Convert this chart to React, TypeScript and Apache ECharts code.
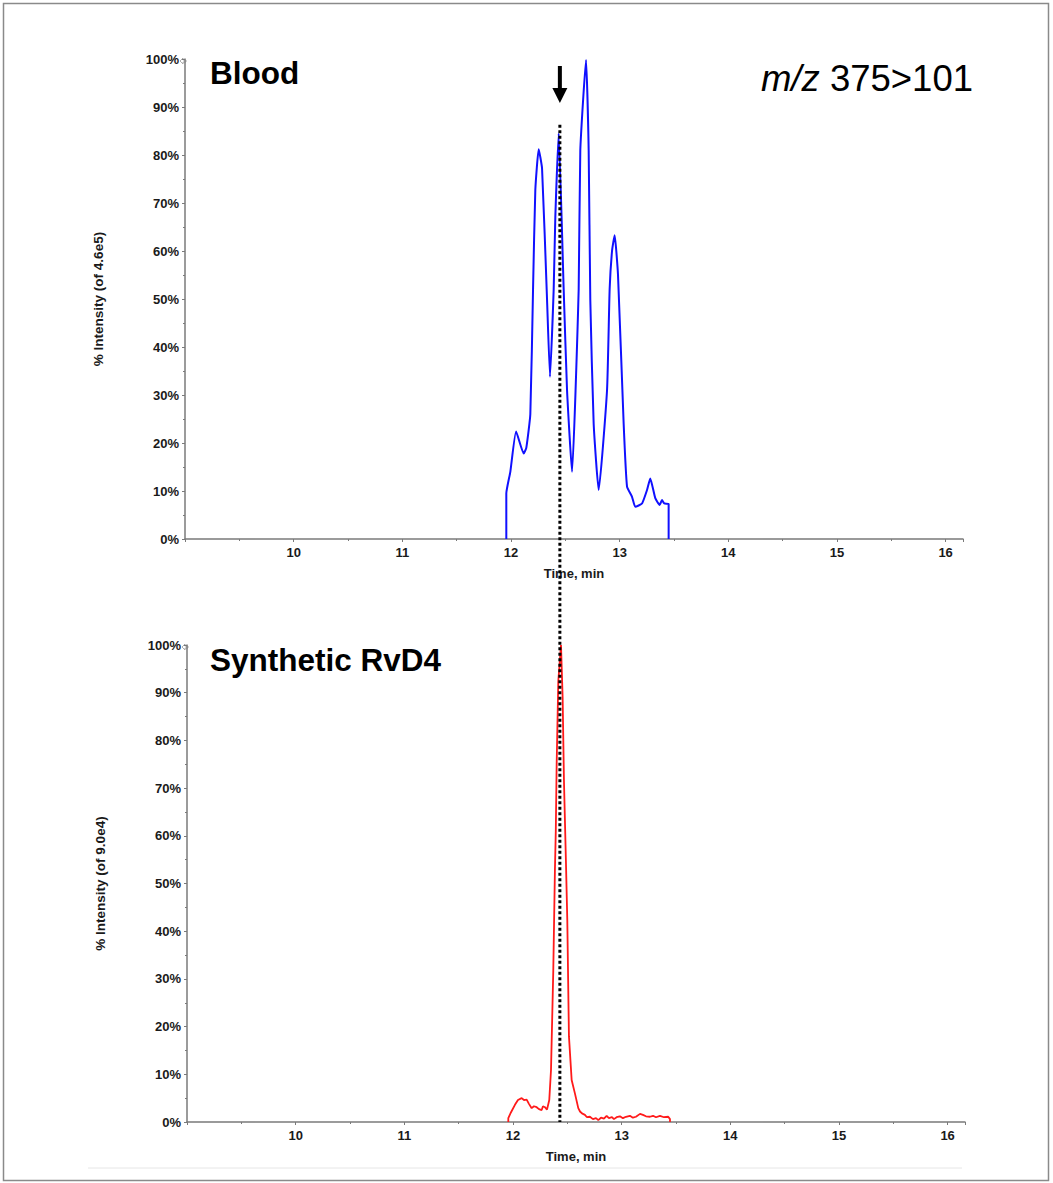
import React, { useEffect, useRef } from "react";
import * as echarts from "echarts";

// ---- data (time in min, % intensity) ----
const bloodTime = [11.957, 11.957, 11.994, 12.047, 12.117, 12.141, 12.178, 12.203, 12.224, 12.255, 12.286, 12.332, 12.359, 12.393, 12.408, 12.439, 12.485, 12.516, 12.562, 12.623, 12.638, 12.691, 12.715, 12.730, 12.761, 12.807, 12.884, 12.908, 12.930, 12.954, 12.985, 13.037, 13.068, 13.114, 13.144, 13.206, 13.252, 13.282, 13.328, 13.368, 13.390, 13.411, 13.451, 13.451];
const bloodValue = [0, 9.5, 14, 22.4, 17.8, 19, 26, 52, 72.7, 81.2, 77.2, 49.8, 33.8, 52, 67, 84.5, 52, 31, 14, 52, 81, 99.8, 81, 49.8, 24, 10.2, 31, 52, 60, 63.3, 55, 24, 10.9, 8.8, 6.7, 7.4, 10.2, 12.6, 8.5, 7.1, 8.1, 7.4, 7.3, 0];

const rvd4Time = [11.957, 11.957, 11.981, 12.018, 12.046, 12.080, 12.101, 12.126, 12.147, 12.172, 12.193, 12.218, 12.239, 12.264, 12.276, 12.294, 12.313, 12.334, 12.350, 12.371, 12.386, 12.394, 12.402, 12.417, 12.442, 12.457, 12.469, 12.488, 12.500, 12.515, 12.540, 12.570, 12.601, 12.617, 12.635, 12.662, 12.681, 12.708, 12.736, 12.764, 12.785, 12.810, 12.837, 12.862, 12.883, 12.911, 12.929, 12.954, 12.984, 13.012, 13.040, 13.076, 13.104, 13.132, 13.169, 13.196, 13.224, 13.261, 13.289, 13.316, 13.353, 13.390, 13.429, 13.445, 13.445];
const rvd4Value = [0, 0.8, 2.0, 3.6, 4.6, 5.0, 4.6, 4.7, 3.8, 2.9, 3.3, 3.1, 2.7, 2.5, 3.3, 3.1, 2.6, 4.6, 10.9, 31.8, 52.8, 61, 75, 92.4, 100, 89, 71.7, 54, 42.2, 18, 8.8, 6, 2.9, 2.2, 1.8, 1.5, 1.0, 1.1, 0.6, 0.8, 0.4, 0.9, 0.7, 1.3, 0.8, 1.0, 0.6, 1.0, 1.2, 0.8, 1.1, 1.3, 0.9, 1.1, 1.7, 1.5, 1.2, 1.1, 1.3, 1.0, 1.3, 1.0, 1.1, 0.6, 0];

const xTicks = [10, 11, 12, 13, 14, 15, 16];
const yTicks = [0, 10, 20, 30, 40, 50, 60, 70, 80, 90, 100];
const X_MIN = 9;
const X_MAX = 16.16;
const RT_MARK = 12.45;
const MARK_TOP_PCT = 86.3;

const titles = ["Blood", "Synthetic RvD4"];
const yNames = ["% Intensity (of 4.6e5)", "% Intensity (of 9.0e4)"];
const transitionLabel = { italic: "m/z", rest: " 375>101" };

const FONT = "'Liberation Sans', Arial, Helvetica, sans-serif";
const AXIS_GRAY = "#7a7a7a";

function makeX(gridIndex: number) {
  return {
    type: "value",
    gridIndex,
    min: X_MIN,
    max: X_MAX,
    interval: 1,
    name: "Time, min",
    nameLocation: "middle",
    nameGap: 28,
    nameTextStyle: { fontFamily: FONT, fontWeight: "bold", fontSize: 13, color: "#1a1a1a" },
    axisLine: { show: true, lineStyle: { color: AXIS_GRAY, width: 1.5 } },
    axisTick: { show: true, length: 3, lineStyle: { color: AXIS_GRAY } },
    minorTick: { show: true, splitNumber: 2, length: 2, lineStyle: { color: AXIS_GRAY } },
    splitLine: { show: false },
    axisLabel: {
      fontFamily: FONT,
      fontWeight: "bold",
      fontSize: 13,
      color: "#1a1a1a",
      margin: 7,
      showMinLabel: false,
      showMaxLabel: false,
      formatter: (v: number) => (xTicks.includes(Math.round(v)) && Math.abs(v - Math.round(v)) < 1e-6 ? String(Math.round(v)) : ""),
    },
  };
}

function makeY(gridIndex: number) {
  return {
    type: "value",
    gridIndex,
    min: yTicks[0],
    max: yTicks[yTicks.length - 1],
    interval: 10,
    name: yNames[gridIndex],
    nameLocation: "middle",
    nameGap: 80,
    nameTextStyle: { fontFamily: FONT, fontWeight: "bold", fontSize: 13.5, color: "#1a1a1a" },
    axisLine: { show: true, lineStyle: { color: AXIS_GRAY, width: 1.5 } },
    axisTick: { show: true, length: 3, lineStyle: { color: AXIS_GRAY } },
    minorTick: { show: true, splitNumber: 2, length: 2, lineStyle: { color: AXIS_GRAY } },
    splitLine: { show: false },
    axisLabel: {
      fontFamily: FONT,
      fontWeight: "bold",
      fontSize: 13,
      color: "#1a1a1a",
      margin: 6,
      formatter: "{value}%",
    },
  };
}

function zip(t: number[], v: number[]) {
  return t.map((x, i) => [x, v[i]]);
}

export default function App() {
  const ref = useRef<HTMLDivElement>(null);
  useEffect(() => {
    document.body.style.margin = "0";
    if (!ref.current) return;
    const chart = echarts.init(ref.current, null, { renderer: "svg" });
    const option: any = {
      animation: false,
      backgroundColor: "#ffffff",
      grid: [
        { left: 185, top: 59, width: 778, height: 480 },
        { left: 187, top: 645, width: 778, height: 477 },
      ],
      xAxis: [makeX(0), makeX(1)],
      yAxis: [makeY(0), makeY(1)],
      series: [
        {
          type: "line",
          xAxisIndex: 0,
          yAxisIndex: 0,
          data: zip(bloodTime, bloodValue),
          showSymbol: false,
          smooth: 0.15,
          lineStyle: { color: "#1010ff", width: 2 },
        },
        {
          type: "line",
          xAxisIndex: 1,
          yAxisIndex: 1,
          data: zip(rvd4Time, rvd4Value),
          showSymbol: false,
          lineStyle: { color: "#ff1a1a", width: 1.8 },
        },
      ],
    };
    chart.setOption(option);

    const top = chart.convertToPixel({ gridIndex: 0 }, [RT_MARK, MARK_TOP_PCT]) as number[];
    const bot = chart.convertToPixel({ gridIndex: 1 }, [RT_MARK, 0]) as number[];
    const c0 = chart.convertToPixel({ gridIndex: 0 }, [X_MIN, 100]) as number[];
    const c1 = chart.convertToPixel({ gridIndex: 1 }, [X_MIN, 100]) as number[];
    const mx = top[0];

    const smallIcon = (p: number[]) => ({
      type: "polygon",
      shape: {
        points: [
          [p[0] - 5, p[1] + 2],
          [p[0] - 2, p[1] - 1],
          [p[0] - 2, p[1] + 1],
          [p[0] + 1, p[1] + 1],
          [p[0] + 1, p[1] + 3],
          [p[0] - 2, p[1] + 3],
          [p[0] - 2, p[1] + 5],
        ],
      },
      style: { fill: "none", stroke: "#999", lineWidth: 0.8 },
    });

    chart.setOption({
      graphic: [
        {
          type: "rect",
          shape: { x: 3.5, y: 3.5, width: 1045, height: 1177 },
          style: { fill: "none", stroke: "#8a8a8a", lineWidth: 1.5 },
          silent: true,
        },
        {
          type: "line",
          shape: { x1: 88, y1: 1168, x2: 962, y2: 1168 },
          style: { stroke: "#e6e6e6", lineWidth: 1 },
        },
        {
          type: "line",
          shape: { x1: mx, y1: top[1], x2: mx, y2: bot[1] },
          style: { stroke: "#000", lineWidth: 3, lineDash: [3, 2.5] },
          z: 10,
        },
        {
          type: "rect",
          shape: { x: mx - 2, y: 66, width: 4, height: 24 },
          style: { fill: "#000" },
        },
        {
          type: "polygon",
          shape: { points: [[mx - 7.5, 88], [mx + 7.5, 88], [mx, 103]] },
          style: { fill: "#000" },
        },
        smallIcon(c0),
        smallIcon(c1),
        {
          type: "text",
          x: 210,
          y: 73,
          style: { text: titles[0], font: `bold 31.5px ${FONT}`, fill: "#000", verticalAlign: "middle" },
        },
        {
          type: "text",
          x: 210,
          y: 660,
          style: { text: titles[1], font: `bold 31.5px ${FONT}`, fill: "#000", verticalAlign: "middle" },
        },
        {
          type: "text",
          x: 973,
          y: 78,
          style: {
            text: `{i|${transitionLabel.italic}}{r|${transitionLabel.rest}}`,
            align: "right",
            verticalAlign: "middle",
            rich: {
              i: { fontFamily: FONT, fontStyle: "italic", fontSize: 36.5, fill: "#000" },
              r: { fontFamily: FONT, fontSize: 36.5, fill: "#000" },
            },
          },
        },
      ],
    });
    return () => chart.dispose();
  }, []);
  return <div ref={ref} style={{ width: 1053, height: 1183 }} />;
}
